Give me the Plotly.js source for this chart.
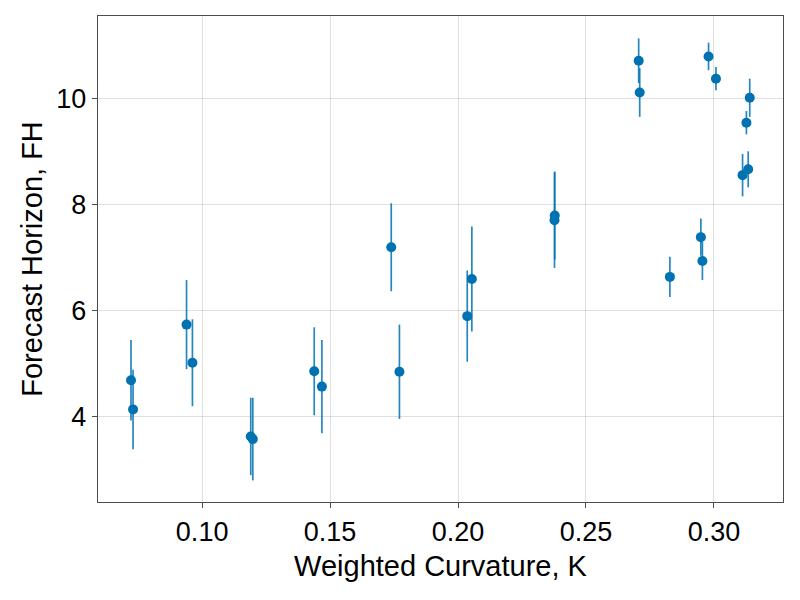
<!DOCTYPE html>
<html>
<head>
<meta charset="utf-8">
<script src="https://cdn.plot.ly/plotly-3.0.1.min.js"></script>
<style>
  body { margin: 0; background: #fff; }
  #plot { width: 800px; height: 600px; }
</style>
</head>
<body>
<div id="plot"></div>
<script>
// weighted curvature vs forecast horizon
const curvature = [0.0722, 0.0730, 0.0939, 0.0962, 0.1190, 0.1198, 0.1438, 0.1468,
                   0.1739, 0.1771, 0.2036, 0.2054, 0.2378, 0.2377,
                   0.2706, 0.2710, 0.2828, 0.2949, 0.2955, 0.2979, 0.3008,
                   0.3140, 0.3127, 0.3112, 0.3134];
const horizon = [4.68, 4.13, 5.73, 5.01, 3.62, 3.57, 4.85, 4.56,
                 7.19, 4.84, 5.89, 6.59, 7.79, 7.70,
                 10.71, 10.11, 6.63, 7.38, 6.93, 10.79, 10.37,
                 10.01, 9.54, 8.55, 8.66];
const horizonErr = [0.76, 0.75, 0.84, 0.82, 0.73, 0.78, 0.83, 0.88,
                    0.83, 0.89, 0.86, 0.99, 0.83, 0.90,
                    0.42, 0.46, 0.38, 0.35, 0.36, 0.26, 0.22,
                    0.36, 0.22, 0.40, 0.34];

const blue = "rgb(0,114,178)";
const font = "Liberation Sans, Arial, sans-serif";

const trace = {
    x: curvature,
    y: horizon,
    mode: "markers",
    type: "scatter",
    marker: { color: blue, size: 10 },
    error_y: {
        type: "data",
        array: horizonErr,
        visible: true,
        color: "rgba(0,114,178,0.85)",
        thickness: 1.7,
        width: 0
    },
    hoverinfo: "none"
};

const axisCommon = {
    showline: true,
    mirror: true,
    linecolor: "#4d4d4d",
    linewidth: 1.3,
    showgrid: true,
    gridcolor: "rgba(0,0,0,0.12)",
    gridwidth: 1,
    zeroline: false,
    ticks: "outside",
    ticklen: 5,
    tickcolor: "#4d4d4d",
    tickfont: { family: font, size: 27, color: "#000" }
};

const layout = {
    width: 800,
    height: 600,
    margin: { l: 98, r: 17, t: 16, b: 98 },
    paper_bgcolor: "#fff",
    plot_bgcolor: "#fff",
    showlegend: false,
    xaxis: Object.assign({}, axisCommon, {
        range: [0.0593, 0.327],
        tickvals: [0.10, 0.15, 0.20, 0.25, 0.30],
        ticktext: ["0.10", "0.15", "0.20", "0.25", "0.30"],
        title: { text: "Weighted Curvature, K", font: { family: font, size: 29, color: "#000" }, standoff: 10 }
    }),
    yaxis: Object.assign({}, axisCommon, {
        range: [2.383, 11.553],
        tickvals: [4, 6, 8, 10],
        title: { text: "Forecast Horizon, FH", font: { family: font, size: 29, color: "#000" }, standoff: 5 }
    })
};

Plotly.newPlot("plot", [trace], layout, { staticPlot: true });
</script>
</body>
</html>
